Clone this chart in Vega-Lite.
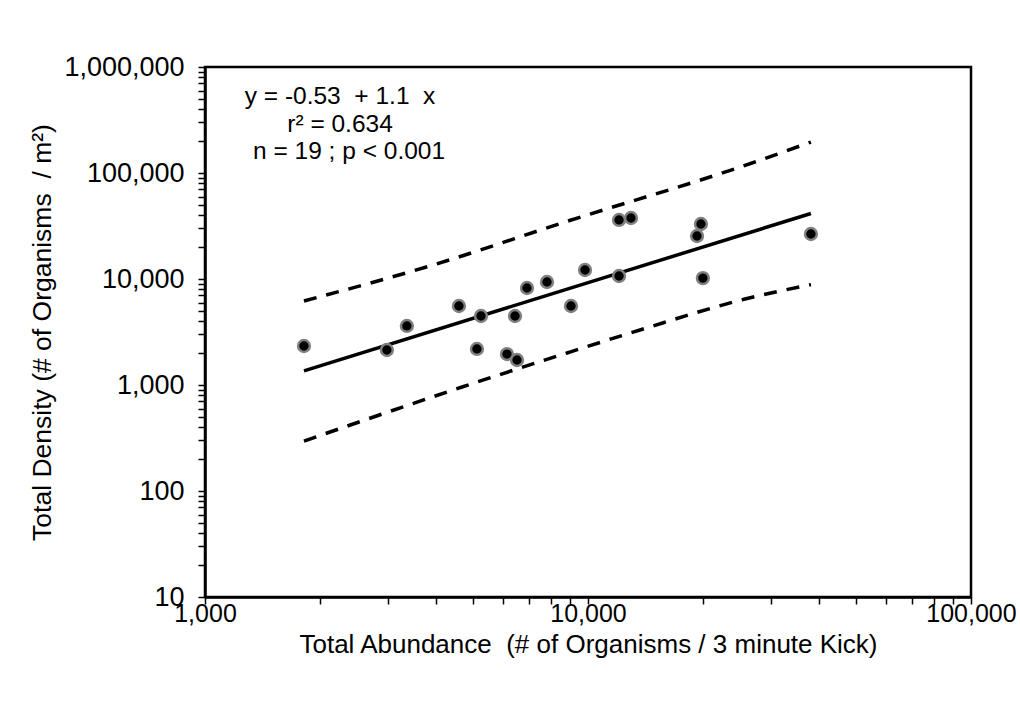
{
  "$schema": "https://vega.github.io/schema/vega-lite/v6.json",
  "autosize": {"type": "none"},
  "width": 766,
  "height": 530,
  "padding": {"left": 205, "top": 67, "right": 49, "bottom": 124},
  "background": "white",
  "config": {
    "view": {"stroke": "black", "strokeWidth": 2.5},
    "font": "Liberation Sans"
  },
  "datasets": {
    "pts": [
      {"x": 1813, "y": 2333}, {"x": 2985, "y": 2138}, {"x": 3366, "y": 3606},
      {"x": 4603, "y": 5559}, {"x": 5129, "y": 2188}, {"x": 5255, "y": 4477},
      {"x": 6144, "y": 1959}, {"x": 6448, "y": 4477}, {"x": 6526, "y": 1722},
      {"x": 6929, "y": 8222}, {"x": 7816, "y": 9370}, {"x": 9029, "y": 5559},
      {"x": 9822, "y": 12157}, {"x": 12050, "y": 36059}, {"x": 12950, "y": 37600},
      {"x": 12050, "y": 10668}, {"x": 19260, "y": 25470}, {"x": 19720, "y": 33000},
      {"x": 19950, "y": 10200}, {"x": 38200, "y": 26600}
    ],
    "fit": [
      {"x": 1813, "y": 1360}, {"x": 38200, "y": 41500}
    ],
    "band": [
      {"band": "upper", "x": 1813, "y": 6200},
      {"band": "upper", "x": 3938, "y": 13550},
      {"band": "upper", "x": 8710, "y": 34500},
      {"band": "upper", "x": 26800, "y": 124200},
      {"band": "upper", "x": 38200, "y": 196000},
      {"band": "lower", "x": 1813, "y": 296},
      {"band": "lower", "x": 4690, "y": 957},
      {"band": "lower", "x": 8810, "y": 2004},
      {"band": "lower", "x": 13670, "y": 3305},
      {"band": "lower", "x": 25700, "y": 6470},
      {"band": "lower", "x": 38200, "y": 8850}
    ],
    "notes": [
      {"x": 2252, "y": 521000, "label": "y = -0.53\u00a0 + 1.1\u00a0 x"},
      {"x": 2252, "y": 284000, "label": "r² = 0.634"},
      {"x": 2377, "y": 157900, "label": "n = 19 ; p < 0.001"}
    ]
  },
  "encoding": {
    "x": {
      "field": "x", "type": "quantitative",
      "scale": {"type": "log", "domain": [1000, 100000], "nice": false},
      "axis": {
        "title": "Total Abundance\u00a0 (# of Organisms / 3 minute Kick)",
        "values": [1000, 2000, 3000, 4000, 5000, 6000, 7000, 8000, 9000, 10000, 20000, 30000, 40000, 50000, 60000, 70000, 80000, 90000, 100000],
        "labelExpr": "abs(log(datum.value)/LN10 - round(log(datum.value)/LN10)) < 0.000001 ? format(datum.value, ',') : ''",
        "labelOverlap": false, "labelFlush": false,
        "grid": false,
        "domainColor": "black", "domainWidth": 2.5,
        "tickColor": "black", "tickWidth": 1.5, "tickSize": 7,
        "labelFont": "Liberation Sans", "labelFontSize": 25, "labelColor": "black", "labelPadding": -3,
        "titleFont": "Liberation Sans", "titleFontSize": 26, "titleFontWeight": "normal", "titleColor": "black",
        "titleBaseline": "middle", "titleY": 47
      }
    },
    "y": {
      "field": "y", "type": "quantitative",
      "scale": {"type": "log", "domain": [10, 1000000], "nice": false},
      "axis": {
        "title": "Total Density (# of Organisms\u00a0 / m²)",
        "values": [10, 20, 30, 40, 50, 60, 70, 80, 90, 100, 200, 300, 400, 500, 600, 700, 800, 900, 1000, 2000, 3000, 4000, 5000, 6000, 7000, 8000, 9000, 10000, 20000, 30000, 40000, 50000, 60000, 70000, 80000, 90000, 100000, 200000, 300000, 400000, 500000, 600000, 700000, 800000, 900000, 1000000],
        "labelExpr": "abs(log(datum.value)/LN10 - round(log(datum.value)/LN10)) < 0.000001 ? format(datum.value, ',') : ''",
        "labelOverlap": false, "labelFlush": false,
        "grid": false,
        "domainColor": "black", "domainWidth": 2.5,
        "tickColor": "black", "tickWidth": 1.5, "tickSize": 7,
        "labelFont": "Liberation Sans", "labelFontSize": 27, "labelColor": "black", "labelPadding": 14,
        "titleFont": "Liberation Sans", "titleFontSize": 26.5, "titleFontWeight": "normal", "titleColor": "black",
        "titleBaseline": "middle", "titleX": -163, "titleY": 265
      }
    }
  },
  "layer": [
    {
      "data": {"name": "band"},
      "mark": {"type": "line", "color": "black", "strokeWidth": 3.5, "strokeDash": [13, 10], "interpolate": "monotone"},
      "encoding": {"detail": {"field": "band", "type": "nominal"}, "order": {"field": "x", "type": "quantitative"}}
    },
    {
      "data": {"name": "fit"},
      "mark": {"type": "line", "color": "black", "strokeWidth": 3.5},
      "encoding": {}
    },
    {
      "data": {"name": "pts"},
      "mark": {"type": "point", "filled": true, "fill": "black", "stroke": "#808080", "strokeWidth": 2.5, "size": 140, "opacity": 1},
      "encoding": {}
    },
    {
      "data": {"name": "notes"},
      "mark": {"type": "text", "font": "Liberation Sans", "fontSize": 24.5, "align": "center", "baseline": "middle", "color": "black"},
      "encoding": {"text": {"field": "label", "type": "nominal"}}
    }
  ]
}
